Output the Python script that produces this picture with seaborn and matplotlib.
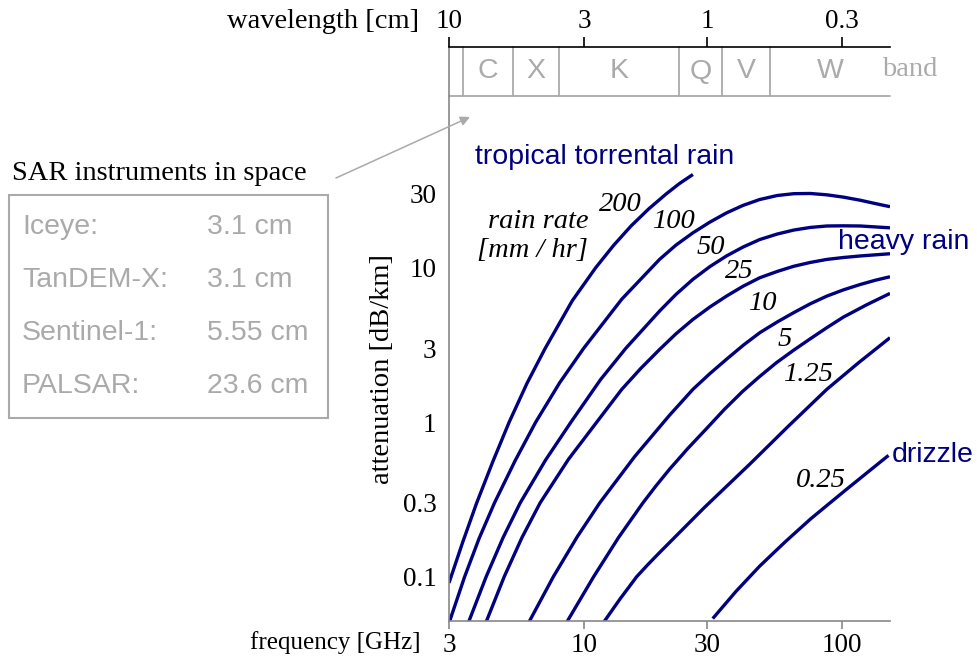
import matplotlib
matplotlib.use("Agg")
import matplotlib.pyplot as plt
import matplotlib.transforms as mtransforms
from matplotlib.patches import Rectangle
from matplotlib.ticker import NullLocator, FixedLocator, FixedFormatter
import numpy as np
import pandas as pd
import seaborn as sns

# ---------------- data ----------------
rates = ["200", "100", "50", "25", "10", "5", "1.25", "0.25"]

f_200 = [3.0, 3.39, 3.84, 4.44, 5.13, 6.02, 7.07, 9.0, 11.1, 13.0, 15.2,
         17.8, 20.8, 23.4, 26.4]
a_200 = [0.091, 0.167, 0.3, 0.558, 1.0, 1.79, 3.0, 6.1, 10.0, 13.9, 18.6,
         24.0, 30.0, 35.0, 40.1]

f_100 = [3.0, 3.45, 3.92, 4.5, 5.41, 6.5, 8.05, 9.96, 14.0, 19.6, 22.7,
         26.4, 30.7, 35.6, 41.3, 47.9, 56.0, 64.8, 75.1, 87.1, 101.0,
         117.4, 134.0, 153.0]
a_100 = [0.05, 0.1, 0.176, 0.3, 0.563, 1.0, 1.80, 3.0, 6.25, 11.3, 14.0,
         16.8, 19.7, 22.6, 25.3, 27.6, 29.3, 30.1, 30.2, 29.6, 28.6, 27.3,
         26.0, 24.8]

f_50 = [3.56, 4.18, 4.86, 5.66, 7.1, 8.9, 11.6, 14.5, 19.6, 22.7, 26.4,
        30.7, 35.6, 41.3, 47.9, 56.0, 64.8, 75.1, 87.1, 101.0, 117.4,
        153.0]
a_50 = [0.05, 0.1, 0.179, 0.3, 0.569, 1.0, 1.89, 3.0, 5.23, 6.71, 8.4,
        10.15, 11.9, 13.6, 15.2, 16.5, 17.5, 18.2, 18.6, 18.65, 18.6, 18.1]

f_25 = [4.16, 4.91, 5.75, 6.76, 8.7, 11.2, 14.0, 16.6, 19.6, 22.7, 26.4,
        30.7, 35.6, 41.3, 47.9, 56.0, 64.8, 75.1, 87.1, 101.0, 117.4,
        153.0]
a_25 = [0.05, 0.1, 0.179, 0.3, 0.574, 1.0, 1.63, 2.23, 2.95, 3.73, 4.62,
        5.56, 6.54, 7.58, 8.6, 9.45, 10.2, 10.8, 11.3, 11.63, 11.9, 12.3]

f_10 = [6.09, 7.61, 9.41, 11.5, 15.7, 21.4, 26.4, 30.7, 35.6, 41.3, 47.9,
        56.0, 64.8, 75.1, 87.1, 101.0, 117.4, 134.0, 153.0]
a_10 = [0.05, 0.1, 0.181, 0.3, 0.598, 1.105, 1.63, 2.06, 2.55, 3.14, 3.79,
        4.45, 5.11, 5.83, 6.54, 7.18, 7.78, 8.28, 8.73]

f_5 = [8.53, 10.9, 13.6, 16.9, 19.0, 21.4, 25.2, 29.66, 34.9, 41.1, 47.8,
       55.5, 64.6, 75.1, 87.0, 100.9, 124.3, 153.0]
a_5 = [0.05, 0.1, 0.179, 0.3, 0.387, 0.494, 0.674, 0.9, 1.206, 1.58, 1.97,
       2.42, 2.91, 3.46, 4.08, 4.78, 5.75, 6.81]

f_125 = [11.85, 13.77, 16.0, 17.7, 19.6, 29.3, 43.7, 61.7, 87.1, 115.5,
         153.0]
a_125 = [0.05, 0.0715, 0.1, 0.12, 0.143, 0.281, 0.532, 0.938, 1.63, 2.42,
         3.52]

f_025 = [31.5, 38.8, 47.9, 60.0, 75.1, 88.3, 103.8, 125.2, 151.0]
a_025 = [0.0535, 0.0804, 0.117, 0.1674, 0.235, 0.294, 0.367, 0.473, 0.609]

curve_freqs = [f_200, f_100, f_50, f_25, f_10, f_5, f_125, f_025]
curve_atts = [a_200, a_100, a_50, a_25, a_10, a_5, a_125, a_025]

# rain-rate label anchors (frequency, attenuation)
label_f = [13.8, 22.4, 30.9, 39.9, 49.6, 59.8, 74.2, 82.5]
label_a = [25.5, 19.8, 13.5, 9.42, 5.85, 3.42, 2.03, 0.42]

x_ticks = [3, 10, 30, 100]
x_ticklabels = ["3", "10", "30", "100"]
wl_ticklabels = ["10", "3", "1", "0.3"]
y_ticks = [0.1, 0.3, 1, 3, 10, 30]
y_ticklabels = ["0.1", "0.3", "1", "3", "10", "30"]

band_edges = [3.4, 5.3, 8.0, 23.4, 34.3, 52.7]
band_names = ["C", "X", "K", "Q", "V", "W"]

sar_names = ["Iceye:", "TanDEM-X:", "Sentinel-1:", "PALSAR:"]
sar_wavelengths = ["3.1 cm", "3.1 cm", "5.55 cm", "23.6 cm"]

# ---------------- styling ----------------
sns.set_style("white")
plt.rcParams["font.family"] = ["Liberation Serif", "DejaVu Serif"]
plt.rcParams["text.color"] = "black"
NAVY = "#000080"
GRAY = "#aaaaaa"
SPINE = "#888888"
SANS = ["Liberation Sans", "DejaVu Sans"]
SERIF = ["Liberation Serif", "DejaVu Serif"]
FS = 20.5
TFS = 19.5

W, H = 978, 664
fig = plt.figure(figsize=(W / 100, H / 100), dpi=100)

def fx(px):
    return px / W

def fy(py):
    return 1 - py / H

ax = fig.add_axes([fx(449), fy(621), (890 - 449) / W, (621 - 47) / H])
ax.set_xscale("log")
ax.set_yscale("log")

rows = []
for r, fs_, as_ in zip(rates, curve_freqs, curve_atts):
    for f, a in zip(fs_, as_):
        rows.append({"rate": r, "freq": f, "att": a})
df = pd.DataFrame(rows)

sns.lineplot(data=df, x="freq", y="att", hue="rate", hue_order=rates,
             palette=[NAVY] * len(rates), sort=False, estimator=None,
             legend=False, lw=2.4, ax=ax)
for ln in ax.get_lines():
    ln.set_solid_joinstyle("round")
    ln.set_solid_capstyle("butt")

ax.set_xlim(3, 153)
ax.set_ylim(0.0516, 268)
ax.set_xlabel("")
ax.set_ylabel("")

ax.xaxis.set_major_locator(FixedLocator(x_ticks))
ax.xaxis.set_major_formatter(FixedFormatter(x_ticklabels))
ax.xaxis.set_minor_locator(NullLocator())
ax.yaxis.set_major_locator(FixedLocator(y_ticks))
ax.yaxis.set_major_formatter(FixedFormatter(y_ticklabels))
ax.yaxis.set_minor_locator(NullLocator())

for s in ["top", "right"]:
    ax.spines[s].set_visible(False)
for s in ["left", "bottom"]:
    ax.spines[s].set_color(SPINE)
    ax.spines[s].set_linewidth(1.2)
ax.tick_params(axis="both", which="major", direction="out", length=6,
               width=1.2, color=SPINE, labelcolor="black", labelsize=TFS,
               pad=3)
for lab in ax.get_xticklabels() + ax.get_yticklabels():
    lab.set_fontfamily(SERIF)

# top wavelength axis
axt = ax.twiny()
axt.set_xscale("log")
axt.set_xlim(ax.get_xlim())
axt.xaxis.set_major_locator(FixedLocator(x_ticks))
axt.xaxis.set_major_formatter(FixedFormatter(wl_ticklabels))
axt.xaxis.set_minor_locator(NullLocator())
for s in ["left", "right", "bottom"]:
    axt.spines[s].set_visible(False)
axt.spines["top"].set_color("black")
axt.spines["top"].set_linewidth(1.2)
axt.tick_params(axis="x", direction="out", length=7, width=1.2,
                color="black", labelcolor="black", labelsize=TFS, pad=2)
for lab in axt.get_xticklabels():
    lab.set_fontfamily(SERIF)

# band strip
trans = mtransforms.blended_transform_factory(ax.transData, ax.transAxes)
yb = (621 - 96) / (621 - 47)
xmax = ax.get_xlim()[1]
ax.plot([3, xmax], [yb, yb], transform=trans, color=GRAY, lw=1.3,
        clip_on=False)
for e in band_edges:
    ax.plot([e, e], [yb, 1], transform=trans, color=GRAY, lw=1.3,
            clip_on=False)
edges_ext = band_edges + [xmax]
for i, name in enumerate(band_names):
    xc = np.sqrt(edges_ext[i] * edges_ext[i + 1])
    ax.text(xc, (yb + 1) / 2, name, transform=trans, ha="center",
            va="center", color=GRAY, fontsize=FS, family=SANS)
fig.text(fx(910), fy(70), "band", ha="center", va="center", color=GRAY,
         fontsize=FS, family=SERIF)

# rain-rate labels
for r, lf, la in zip(rates, label_f, label_a):
    ax.text(lf, la, r, ha="center", va="center", fontsize=FS,
            style="italic", family=SERIF, color="black")
ax.text(10.4, 19.9, "rain rate", ha="right", va="center", fontsize=FS,
        style="italic", family=SERIF, color="black")
ax.text(10.4, 12.9, "[mm / hr]", ha="right", va="center", fontsize=FS,
        style="italic", family=SERIF, color="black")

# category labels
fig.text(fx(475), fy(157), "tropical torrental rain", ha="left",
         va="center", color=NAVY, fontsize=FS, family=SANS)
fig.text(fx(838), fy(242), "heavy rain", ha="left", va="center",
         color=NAVY, fontsize=FS, family=SANS)
fig.text(fx(892), fy(455), "drizzle", ha="left", va="center",
         color=NAVY, fontsize=FS, family=SANS)

# axis titles
fig.text(fx(419), fy(22), "wavelength [cm]", ha="right", va="center",
         fontsize=FS, family=SERIF, color="black")
fig.text(fx(421), fy(643), "frequency [GHz]", ha="right", va="center",
         fontsize=18, family=SERIF, color="black")
fig.text(fx(383), fy(369), "attenuation [dB/km]", ha="center",
         va="center", rotation=90, fontsize=FS, family=SERIF,
         color="black")

# SAR box
fig.text(fx(12), fy(173), "SAR instruments in space", ha="left",
         va="center", fontsize=FS, family=SERIF, color="black")
fig.add_artist(Rectangle((fx(9), fy(418)), (328 - 9) / W, (418 - 195) / H,
                         transform=fig.transFigure, fill=False,
                         edgecolor=GRAY, lw=1.5))
row_y = [227, 280, 333, 386]
for name, wl, yy in zip(sar_names, sar_wavelengths, row_y):
    fig.text(fx(22), fy(yy), name, ha="left", va="center", color=GRAY,
             fontsize=FS, family=SANS)
    fig.text(fx(207), fy(yy), wl, ha="left", va="center", color=GRAY,
             fontsize=FS, family=SANS)

ax.annotate("", xy=(fx(470), fy(117)), xycoords="figure fraction",
            xytext=(fx(336), fy(178)), textcoords="figure fraction",
            arrowprops=dict(arrowstyle="-|>", color=GRAY, lw=1.1,
                            mutation_scale=14, shrinkA=0, shrinkB=0))

fig.savefig("out.png", dpi=100)
